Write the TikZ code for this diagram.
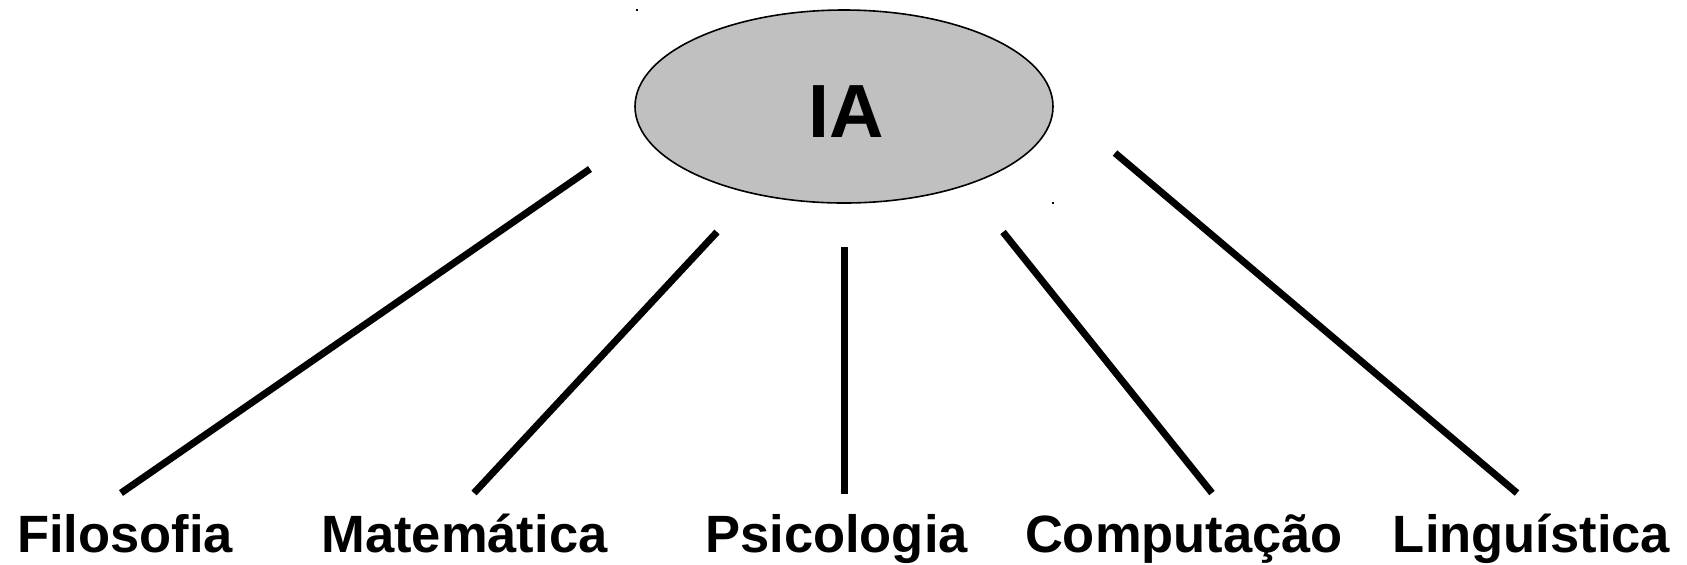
\documentclass[tikz,border=0pt]{standalone}
\usepackage{fontspec}
\setmainfont{Liberation Sans}
\usetikzlibrary{shapes.geometric}
\begin{document}
\begin{tikzpicture}[x=0.5pt,y=-0.5pt,
  hub/.style={ellipse,draw=black,line width=0.8pt,fill=gray!50!white,fill=hubgray,minimum width=209pt,minimum height=96.5pt,inner sep=0pt},
  label/.style={anchor=base,inner sep=0pt,font=\fontsize{26.25pt}{30pt}\selectfont\bfseries},
  big/.style={anchor=base,inner sep=0pt,font=\fontsize{37.7pt}{42pt}\selectfont\bfseries},
  link/.style={line width=3.5pt,line cap=butt},
  speck/.style={fill=black,minimum size=1pt,inner sep=0pt}]
\definecolor{hubgray}{HTML}{C0C0C0}
\useasboundingbox (0,0) rectangle (1687,564);
\node[hub] (ia) at (844,106.5) {};
\node[big] (iatext) at (846,137) {IA};
\node[speck] (d1) at (637,10) {};
\node[speck] (d2) at (1053,203) {};
\node[label] (filo) at (125,552) {Filosofia};
\node[label] (mate) at (464.5,552) {Matemática};
\node[label] (psic) at (836.5,552) {Psicologia};
\node[label] (comp) at (1184,552) {Computação};
\node[label] (ling) at (1531.5,552) {Linguística};
\coordinate (a1) at (590,169);  \coordinate (b1) at (121,493);
\coordinate (a2) at (717,232);  \coordinate (b2) at (474,493);
\coordinate (a3) at (844,247);  \coordinate (b3) at (844,494);
\coordinate (a4) at (1003,232); \coordinate (b4) at (1212,493);
\coordinate (a5) at (1115,153); \coordinate (b5) at (1517,493);
\draw[link] (a1) -- (b1);
\draw[link] (a2) -- (b2);
\draw[link] (a3) -- (b3);
\draw[link] (a4) -- (b4);
\draw[link] (a5) -- (b5);
\end{tikzpicture}
\end{document}
